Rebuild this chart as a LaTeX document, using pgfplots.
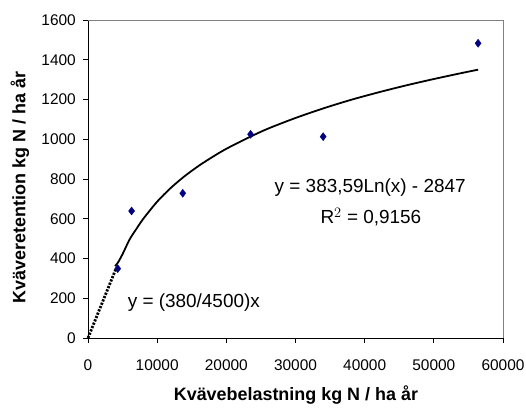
\documentclass[border=0pt]{standalone}
\usepackage{pgfplots}
\pgfplotsset{compat=1.18}
\usepackage{fontspec}
\setmainfont{Liberation Sans}
\definecolor{navy}{RGB}{0,0,128}
\newcommand\tickfont{\fontsize{15.5}{18}\selectfont}

\begin{document}
\begin{tikzpicture}
\begin{axis}[
  at={(0bp,0bp)}, anchor=origin,
  width=415bp, height=318bp, scale only axis,
  xmin=0, xmax=60000, ymin=0, ymax=1600,
  xtick={0,10000,...,60000}, ytick={0,200,...,1600},
  scaled x ticks=false,
  /pgf/number format/set thousands separator={},
  /pgf/number format/assume math mode=true,
  xticklabel={\tickfont\pgfmathprintnumber{\tick}},
  yticklabel={\tickfont\pgfmathprintnumber{\tick}},
  axis x line*=bottom, axis y line*=left,
  axis line style={black, line width=0.8pt, -},
  tick align=outside, major tick length=5bp,
  tick style={black, line width=0.8pt},
  tick label style={inner sep=0pt},
  xticklabel style={anchor=north, yshift=-17bp},
  yticklabel style={anchor=east, xshift=-7bp},
  xlabel={Kvävebelastning kg N / ha år},
  ylabel={Kväveretention kg N / ha år},
  xlabel style={font=\bfseries\fontsize{18}{20}\selectfont, at={(axis description cs:0.501,-0.179)}, anchor=center},
  ylabel style={font=\bfseries\fontsize{18}{20}\selectfont, at={(axis description cs:-0.164,0.473)}, anchor=center},
  clip=false,
]
\draw[gray, line width=0.8pt] (rel axis cs:0,1) -- (rel axis cs:1,1) -- (rel axis cs:1,0);

% logarithmic trendline, values from y = 383,59 ln(x) - 2847
\addplot[black, line width=1.8pt, smooth] coordinates {
(3900,362) (4300,378) (5000,422) (6000,495) (7000,549) (8000,600) (10000,686)
(12000,756) (14000,815) (16000,866) (18000,911) (20000,952) (23000,1005)
(26000,1053) (30000,1107) (34000,1155) (38000,1198) (42000,1236)
(46000,1271) (50000,1303) (54000,1333) (56400,1350)
};
% linear line y = (380/4500)x
\addplot[black, line width=2.8pt, line cap=butt, dash pattern=on 2.2pt off 1.4pt] coordinates {(0,0) (4000,345)};

\addplot[only marks, mark=diamond*, mark size=4bp, mark options={fill=navy, draw=navy}] coordinates {
(4300,349) (6300,639) (13700,728) (23500,1025) (34000,1013) (56400,1483)
};

\node[font=\fontsize{19}{22}\selectfont] at (axis cs:40800,755) {y = 383,59Ln(x) - 2847};
\node[font=\fontsize{19}{22}\selectfont] at (axis cs:40900,610) {R$^{2}$ = 0,9156};
\node[font=\fontsize{19}{22}\selectfont] at (axis cs:15300,180) {y = (380/4500)x};
\end{axis}
\path[use as bounding box] (-88bp,-66bp) rectangle (438bp,338bp);
\end{tikzpicture}
\end{document}
